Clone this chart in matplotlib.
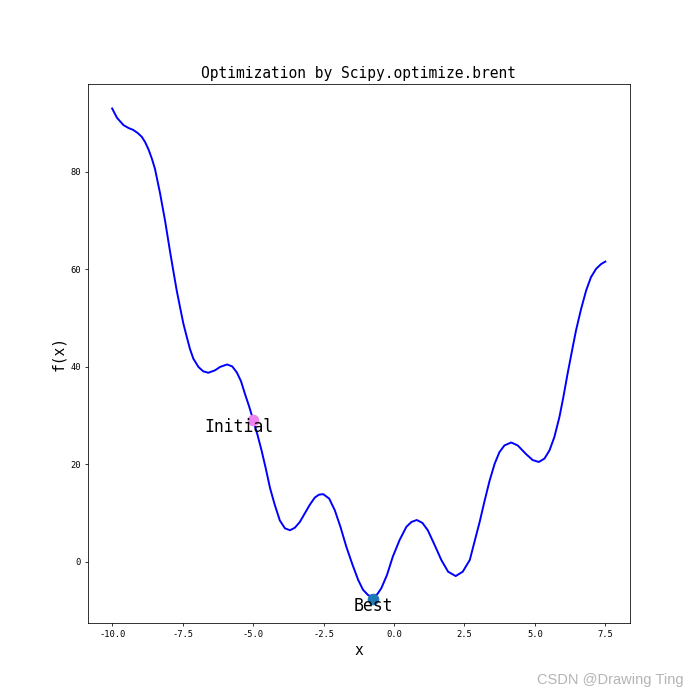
import matplotlib
matplotlib.use("Agg")
import matplotlib.pyplot as plt

# Curve values
x_vals = [-10.00, -9.83, -9.60, -9.42, -9.25, -9.10, -8.95, -8.83, -8.71, -8.59,
          -8.48, -8.30, -8.12, -7.95, -7.83, -7.71, -7.59, -7.47, -7.35, -7.24,
          -7.12, -6.94, -6.77, -6.59, -6.35, -6.17, -5.92, -5.74, -5.58, -5.43,
          -5.29, -5.14, -5.00, -4.84, -4.70, -4.55, -4.40, -4.23, -4.05, -3.87,
          -3.69, -3.52, -3.34, -3.16, -2.99, -2.81, -2.66, -2.51, -2.30, -2.10,
          -1.90, -1.69, -1.47, -1.27, -1.10, -0.92, -0.74, -0.59, -0.45, -0.25,
          -0.04, 0.20, 0.44, 0.62, 0.81, 1.01, 1.20, 1.44, 1.68, 1.92,
          2.19, 2.44, 2.69, 2.86, 3.04, 3.21, 3.39, 3.57, 3.74, 3.92,
          4.16, 4.39, 4.69, 4.92, 5.14, 5.34, 5.52, 5.69, 5.87, 6.01,
          6.16, 6.32, 6.46, 6.64, 6.82, 6.99, 7.17, 7.35, 7.50]
f_vals = [93.0, 91.1, 89.6, 89.0, 88.6, 88.0, 87.2, 86.1, 84.6, 82.7,
          80.6, 75.6, 69.9, 63.8, 59.7, 55.7, 52.2, 48.8, 46.1, 43.7,
          41.7, 40.0, 39.1, 38.8, 39.3, 40.0, 40.5, 40.1, 38.9, 37.1,
          34.5, 31.9, 29.2, 26.0, 22.9, 19.2, 15.2, 11.7, 8.5, 6.9,
          6.5, 7.0, 8.2, 10.0, 11.7, 13.2, 13.8, 13.9, 13.0, 10.6,
          7.2, 3.1, -0.6, -3.7, -5.7, -6.8, -7.2, -6.6, -5.4, -2.7,
          1.1, 4.5, 7.2, 8.2, 8.6, 8.0, 6.5, 3.5, 0.4, -2.0,
          -2.9, -2.0, 0.4, 4.2, 8.2, 12.4, 16.6, 20.1, 22.5, 23.9,
          24.5, 23.9, 22.1, 20.9, 20.5, 21.2, 22.9, 25.6, 29.7, 33.8,
          38.6, 43.4, 47.5, 51.9, 55.7, 58.4, 60.1, 61.1, 61.6]

x_initial = -5.0
f_initial = 29.2
x_best = -0.74
f_best = -7.5

title_text = "Optimization by Scipy.optimize.brent"
xlabel_text = "x"
ylabel_text = "f(x)"

plt.rcParams['font.family'] = ['DejaVu Sans Mono', 'DejaVu Sans']
plt.rcParams['axes.unicode_minus'] = False

fig = plt.figure(figsize=(10, 10), dpi=70)
ax = fig.add_subplot(111)
ax.plot(x_vals, f_vals, color='blue', linewidth=2)
ax.scatter([x_initial], [f_initial], s=120, color='violet', zorder=3)
ax.scatter([x_best], [f_best], s=120, color='#1f77b4', zorder=3)
ax.text(x_initial - 0.5, f_initial - 1.6, "Initial", fontsize=17,
        ha='center', va='center')
ax.text(x_best, f_best - 1.6, "Best", fontsize=17, ha='center', va='center')

ax.set_title(title_text, fontsize=15)
ax.set_xlabel(xlabel_text, fontsize=15)
ax.set_ylabel(ylabel_text, fontsize=15)
ax.tick_params(labelsize=9)

fig.text(0.976, 0.028, "CSDN @Drawing Ting", ha='right', va='center',
         fontsize=15, color='#b4b4b4', family='Liberation Sans')

fig.savefig("out.png", dpi=70)
